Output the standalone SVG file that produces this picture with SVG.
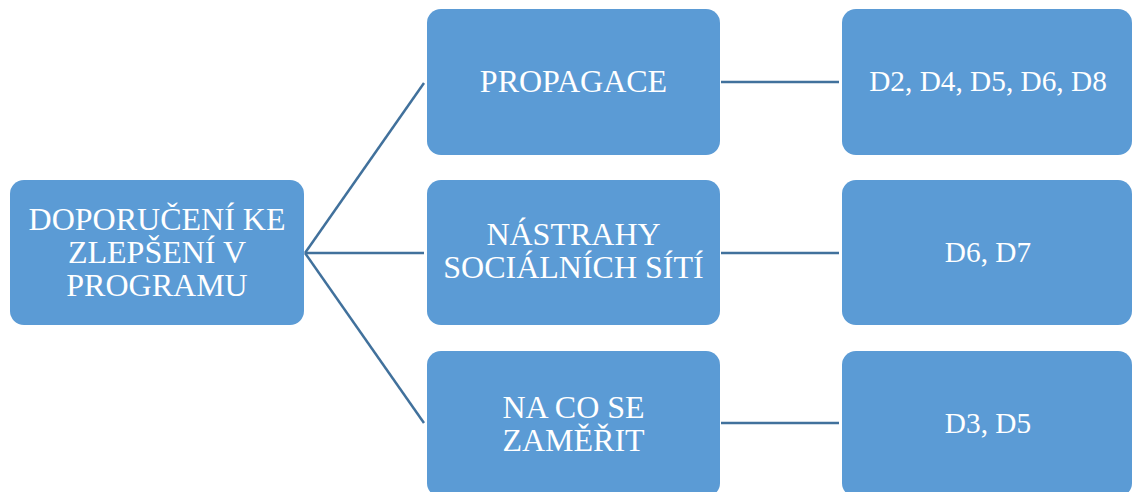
<svg xmlns="http://www.w3.org/2000/svg" width="1133" height="492" viewBox="0 0 1133 492">
<style>
.box{fill:#5B9BD5;}
.t{font-family:"Liberation Serif","Times New Roman",serif;font-size:32px;fill:#FFFFFF;text-anchor:middle;}
.s{font-size:29.3px;}
.c{stroke:#41719C;stroke-width:2.5;fill:none;}
</style>
<rect width="1133" height="492" fill="#FFFFFF"/>
<g id="connectors">
<line class="c" x1="305" y1="253" x2="424" y2="83"/>
<line class="c" x1="305" y1="253" x2="424" y2="253"/>
<line class="c" x1="305" y1="253" x2="424" y2="423"/>
<line class="c" x1="721" y1="82" x2="839" y2="82"/>
<line class="c" x1="721" y1="253" x2="839" y2="253"/>
<line class="c" x1="721" y1="423" x2="839" y2="423"/>
</g>
<g id="root">
<rect class="box" x="10" y="180" width="294" height="145" rx="14"/>
<text class="t" x="157" y="230">DOPORUČENÍ KE</text>
<text class="t" x="157" y="263">ZLEPŠENÍ V</text>
<text class="t" x="157" y="296">PROGRAMU</text>
</g>
<g id="propagace">
<rect class="box" x="427" y="9" width="293" height="146" rx="14"/>
<text class="t" x="573.5" y="92">PROPAGACE</text>
</g>
<g id="nastrahy">
<rect class="box" x="427" y="180" width="293" height="145" rx="14"/>
<text class="t" x="573.5" y="245">NÁSTRAHY</text>
<text class="t" x="573.5" y="278">SOCIÁLNÍCH SÍTÍ</text>
</g>
<g id="zamerit">
<rect class="box" x="427" y="351" width="293" height="146" rx="14"/>
<text class="t" x="573.5" y="418">NA CO SE</text>
<text class="t" x="573.5" y="451">ZAMĚŘIT</text>
</g>
<g id="d-propagace">
<rect class="box" x="842" y="9" width="290" height="146" rx="14"/>
<text class="t s" x="988" y="91">D2, D4, D5, D6, D8</text>
</g>
<g id="d-nastrahy">
<rect class="box" x="842" y="180" width="290" height="145" rx="14"/>
<text class="t s" x="988" y="262">D6, D7</text>
</g>
<g id="d-zamerit">
<rect class="box" x="842" y="351" width="290" height="146" rx="14"/>
<text class="t s" x="988" y="433">D3, D5</text>
</g>
</svg>
